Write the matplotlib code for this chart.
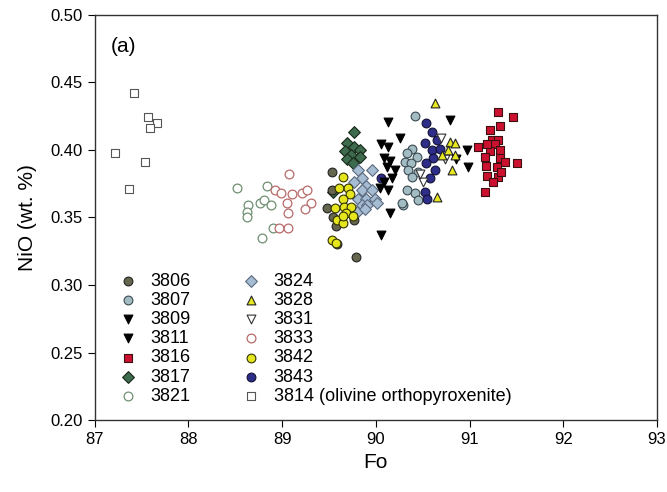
import matplotlib
matplotlib.use("Agg")
import matplotlib.pyplot as plt

plt.rcParams['font.family'] = ['Liberation Sans Narrow', 'Liberation Sans', 'DejaVu Sans']

# olivine Fo vs NiO, one pair of lists per sample
fo_3806 = [89.53, 89.53, 89.48, 89.54, 89.58, 89.77, 89.59, 89.79]
ni_3806 = [0.384, 0.370, 0.357, 0.350, 0.344, 0.348, 0.330, 0.321]

fo_3807 = [90.39, 90.33, 90.44, 90.31, 90.38, 90.34, 90.45, 90.39, 90.33, 90.42, 90.45, 90.29, 90.28, 90.42]
ni_3807 = [0.401, 0.398, 0.395, 0.391, 0.390, 0.385, 0.384, 0.380, 0.370, 0.368, 0.363, 0.359, 0.361, 0.425]

fo_3809 = [90.13, 90.26, 90.06, 90.13, 90.09, 90.15, 90.12, 90.20, 90.17, 90.09, 90.04, 90.13, 90.15, 90.06]
ni_3809 = [0.421, 0.409, 0.404, 0.402, 0.394, 0.392, 0.387, 0.385, 0.379, 0.376, 0.372, 0.370, 0.353, 0.337]

fo_3811 = [90.79, 90.97, 90.98, 90.86]
ni_3811 = [0.422, 0.400, 0.387, 0.393]

fo_3816 = [91.30, 91.46, 91.32, 91.22, 91.24, 91.30, 91.27, 91.32, 91.22, 91.16, 91.32, 91.18,
           91.38, 91.51, 91.29, 91.19, 91.30, 91.25, 91.16, 91.34, 91.09, 91.19]
ni_3816 = [0.428, 0.424, 0.418, 0.415, 0.407, 0.407, 0.404, 0.400, 0.399, 0.395, 0.394, 0.388,
           0.391, 0.390, 0.387, 0.381, 0.380, 0.376, 0.369, 0.384, 0.402, 0.404]

fo_3817 = [89.77, 89.69, 89.77, 89.67, 89.74, 89.83, 89.69, 89.76, 89.83, 89.54]
ni_3817 = [0.413, 0.405, 0.402, 0.399, 0.396, 0.400, 0.393, 0.390, 0.395, 0.369]

fo_3821 = [88.52, 88.64, 88.63, 88.63, 88.76, 88.81, 88.88, 88.90, 88.79, 88.84]
ni_3821 = [0.372, 0.359, 0.354, 0.350, 0.361, 0.363, 0.359, 0.342, 0.335, 0.373]

fo_3824 = [89.81, 89.96, 89.85, 89.77, 89.90, 89.85, 89.96, 89.81, 89.90, 89.99, 89.85, 89.91, 89.80, 89.88, 90.01]
ni_3824 = [0.385, 0.385, 0.379, 0.376, 0.373, 0.370, 0.370, 0.364, 0.364, 0.364, 0.359, 0.359, 0.354, 0.356, 0.361]

fo_3828 = [90.63, 90.79, 90.84, 90.77, 90.84, 90.71, 90.81, 90.65]
ni_3828 = [0.435, 0.406, 0.405, 0.400, 0.396, 0.396, 0.385, 0.365]

fo_3831 = [90.50, 90.70, 90.47, 90.74]
ni_3831 = [0.376, 0.409, 0.382, 0.393]

fo_3833 = [89.07, 88.92, 88.99, 89.11, 89.21, 89.27, 89.31, 89.24, 89.05, 89.06, 88.97, 89.06]
ni_3833 = [0.382, 0.370, 0.368, 0.367, 0.368, 0.370, 0.361, 0.356, 0.361, 0.353, 0.342, 0.342]

fo_3842 = [89.65, 89.61, 89.70, 89.72, 89.65, 89.56, 89.66, 89.74, 89.68, 89.76, 89.59, 89.65, 89.65, 89.53, 89.58]
ni_3842 = [0.380, 0.372, 0.372, 0.367, 0.364, 0.357, 0.358, 0.358, 0.353, 0.351, 0.348, 0.346, 0.351, 0.333, 0.331]

fo_3843 = [90.54, 90.60, 90.65, 90.52, 90.60, 90.68, 90.61, 90.54, 90.63, 90.58, 90.52, 90.55, 90.06]
ni_3843 = [0.420, 0.413, 0.407, 0.405, 0.400, 0.401, 0.394, 0.390, 0.385, 0.379, 0.369, 0.364, 0.379]

fo_3814 = [87.42, 87.57, 87.66, 87.59, 87.22, 87.54, 87.37]
ni_3814 = [0.442, 0.424, 0.420, 0.416, 0.398, 0.391, 0.371]

fig = plt.figure(figsize=(6.67, 4.92), dpi=100)
ax = fig.add_axes([0.142, 0.146, 0.843, 0.824])

s = 40
ax.scatter(fo_3814, ni_3814, s=s, marker='s', facecolor='white', edgecolor='#555555', lw=0.8, label='3814 (olivine orthopyroxenite)', zorder=2)
ax.scatter(fo_3821, ni_3821, s=s, marker='o', facecolor='white', edgecolor='#6f8f72', lw=0.9, label='3821', zorder=2)
ax.scatter(fo_3833, ni_3833, s=s, marker='o', facecolor='white', edgecolor='#b86a6a', lw=0.9, label='3833', zorder=2)
ax.scatter(fo_3816, ni_3816, s=s, marker='s', facecolor='#cc1030', edgecolor='#3a1010', lw=0.8, label='3816', zorder=3)
ax.scatter(fo_3817, ni_3817, s=s - 4, marker='D', facecolor='#3e6a4e', edgecolor='#1a2a1a', lw=0.8, label='3817', zorder=3)
ax.scatter(fo_3824, ni_3824, s=s - 4, marker='D', facecolor='#a5bcd2', edgecolor='#5a6a80', lw=0.8, label='3824', zorder=3)
ax.scatter(fo_3806, ni_3806, s=s, marker='o', facecolor='#66664f', edgecolor='#222222', lw=0.8, label='3806', zorder=3)
ax.scatter(fo_3807, ni_3807, s=s, marker='o', facecolor='#a3bcc4', edgecolor='#3a4a50', lw=0.8, label='3807', zorder=3)
ax.scatter(fo_3842, ni_3842, s=s, marker='o', facecolor='#e6e61e', edgecolor='#333300', lw=0.8, label='3842', zorder=4)
ax.scatter(fo_3843, ni_3843, s=s, marker='o', facecolor='#2e2e8a', edgecolor='#111133', lw=0.8, label='3843', zorder=4)
ax.scatter(fo_3809, ni_3809, s=s, marker='v', facecolor='black', edgecolor='black', lw=0.8, label='3809', zorder=4)
ax.scatter(fo_3811, ni_3811, s=s, marker='v', facecolor='black', edgecolor='black', lw=0.8, label='3811', zorder=4)
ax.scatter(fo_3831, ni_3831, s=s, marker='v', facecolor='white', edgecolor='#333333', lw=0.8, label='3831', zorder=4)
ax.scatter(fo_3828, ni_3828, s=s, marker='^', facecolor='#e8e820', edgecolor='#222222', lw=0.8, label='3828', zorder=5)

order = ['3806', '3807', '3809', '3811', '3816', '3817', '3821',
         '3824', '3828', '3831', '3833', '3842', '3843', '3814 (olivine orthopyroxenite)']
handles, labels = ax.get_legend_handles_labels()
lookup = dict(zip(labels, handles))
ax.legend([lookup[k] for k in order], order, ncol=2, loc='upper left', bbox_to_anchor=(0.012, 0.395),
          frameon=False, fontsize=13, labelspacing=0.12, handletextpad=0.5, columnspacing=2.6,
          borderaxespad=0.3, handlelength=1.5)

ax.set_xlim(87, 93)
ax.set_ylim(0.20, 0.50)
ax.set_xticks(range(87, 94))
ax.set_yticks([0.20, 0.25, 0.30, 0.35, 0.40, 0.45, 0.50])
ax.set_yticklabels(['0.20', '0.25', '0.30', '0.35', '0.40', '0.45', '0.50'])
ax.tick_params(direction='out', length=5, labelsize=12, top=False, right=False)
for sp in ax.spines.values():
    sp.set_linewidth(1.0)
    sp.set_color('#333333')

ax.set_xlabel('Fo', fontsize=15, labelpad=4)
ax.set_ylabel('NiO (wt. %)', fontsize=15, labelpad=10)
ax.text(0.028, 0.945, '(a)', transform=ax.transAxes, fontsize=15, va='top')

fig.savefig('out.png', dpi=100)
